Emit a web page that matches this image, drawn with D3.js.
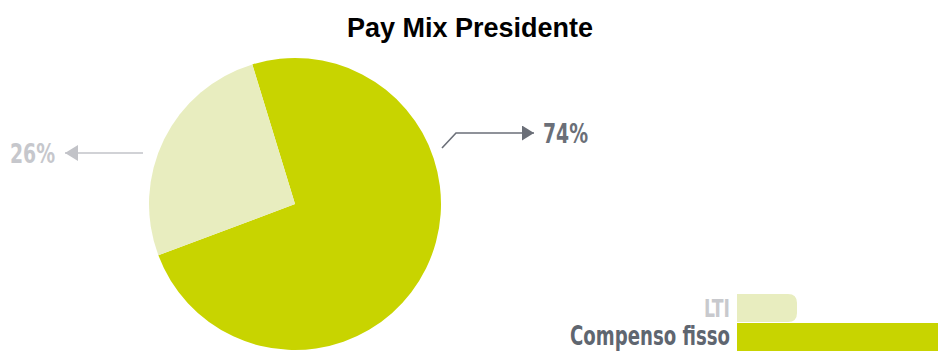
<!DOCTYPE html>
<html>
<head>
<meta charset="utf-8">
<script src="https://cdn.jsdelivr.net/npm/d3@7"></script>
<style>
  html, body { margin: 0; padding: 0; background: #ffffff; }
  svg { display: block; }
</style>
</head>
<body>
<svg id="chart" width="938" height="351"></svg>
<script>
// Pay mix components and their shares (%)
const categories = ["Compenso fisso", "LTI"];
const values = [74, 26];
const valueLabels = ["74%", "26%"];
const colors = ["#c8d400", "#e8edbf"];
const title = "Pay Mix Presidente";

const W = 938, H = 351;
const svg = d3.select("#chart");
const condensed = "'Liberation Sans Narrow', 'DejaVu Sans Condensed', 'Arial Narrow', sans-serif";

// Title
svg.append("text")
  .attr("x", 470).attr("y", 37)
  .attr("text-anchor", "middle")
  .style("font-family", "Arial, 'Liberation Sans', sans-serif")
  .style("font-weight", "bold")
  .style("font-size", "27px")
  .style("fill", "#000")
  .text(title);

// Pie
const cx = 295, cy = 204, R = 146;
const offset = -17 * Math.PI / 180;
const pie = d3.pie().sort(null)
  .startAngle(offset)
  .endAngle(offset + 2 * Math.PI);
const arcs = pie(values);
const arc = d3.arc().innerRadius(0).outerRadius(R);

const g = svg.append("g").attr("transform", `translate(${cx},${cy})`);
g.selectAll("path").data(arcs).join("path")
  .attr("d", arc)
  .attr("fill", (d, i) => colors[i]);

// Callout arrowheads
const defs = svg.append("defs");
function marker(id, color, w, h) {
  defs.append("marker")
    .attr("id", id)
    .attr("viewBox", "0 0 10 10")
    .attr("preserveAspectRatio", "none")
    .attr("refX", 10).attr("refY", 5)
    .attr("markerWidth", w).attr("markerHeight", h)
    .attr("markerUnits", "userSpaceOnUse")
    .attr("orient", "auto")
    .append("path").attr("d", "M0,0 L10,5 L0,10 Z").attr("fill", color);
}
marker("arrDark", "#6b6f78", 12, 15);
marker("arrLight", "#c2c3c8", 13, 16);

function condensedText(x, y, str, size, len, color, anchor) {
  return svg.append("text")
    .attr("x", x).attr("y", y)
    .attr("text-anchor", anchor || "start")
    .attr("textLength", len)
    .attr("lengthAdjust", "spacingAndGlyphs")
    .style("font-family", condensed)
    .style("font-weight", "bold")
    .style("font-size", size + "px")
    .style("fill", color)
    .text(str);
}

// 74% callout (right)
svg.append("path")
  .attr("d", "M442,148 L456,133 L534,133")
  .attr("fill", "none")
  .attr("stroke", "#6b6f78").attr("stroke-width", 1.6)
  .attr("marker-end", "url(#arrDark)");
condensedText(543, 143, valueLabels[0], 27, 45, "#6b6f78");

// 26% callout (left)
svg.append("path")
  .attr("d", "M143,153 L65,153")
  .attr("fill", "none")
  .attr("stroke", "#c2c3c8").attr("stroke-width", 1.6)
  .attr("marker-end", "url(#arrLight)");
condensedText(10, 163, valueLabels[1], 27, 45, "#c6c7cc");

// Legend
const legX = 737;
const legend = [
  { name: categories[1], color: colors[1], text: "#c8c9cd", y: 294, h: 28, w: 60, r: 9, base: 317, len: 26, size: 24 },
  { name: categories[0], color: colors[0], text: "#5f6670", y: 323, h: 30, w: 215, r: 0, base: 345, len: 160, size: 26 }
];
legend.forEach(l => {
  const w = l.w, h = l.h, r = l.r;
  svg.append("path")
    .attr("d", `M${legX},${l.y} H${legX + w - r} Q${legX + w},${l.y} ${legX + w},${l.y + r} V${l.y + h - r} Q${legX + w},${l.y + h} ${legX + w - r},${l.y + h} H${legX} Z`)
    .attr("fill", l.color);
  condensedText(730 - l.len, l.base, l.name, l.size, l.len, l.text);
});
</script>
</body>
</html>
